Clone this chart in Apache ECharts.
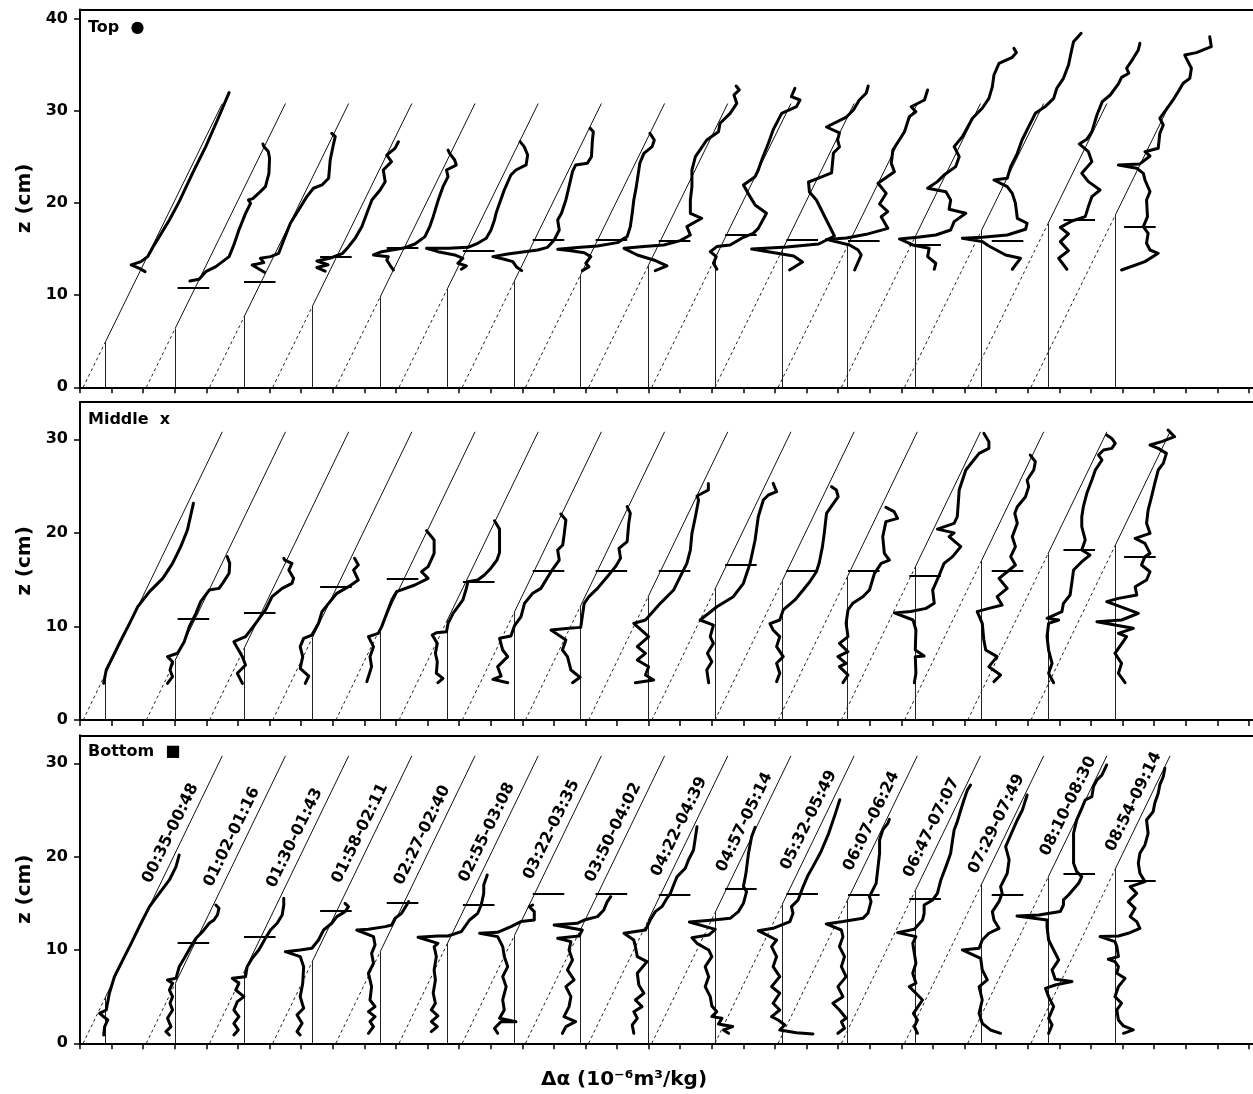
<!DOCTYPE html>
<html><head><meta charset="utf-8">
<script src="https://cdn.jsdelivr.net/npm/echarts/dist/echarts.min.js"></script>
<style>html,body{margin:0;padding:0;background:#fff}#c{width:1253px;height:1094px}</style>
</head><body><div id="c"></div><script>
// ---- data (Δα in arbitrary tick units, z in cm) ----
const SLOPE = 0.143;          // reference-line slope, Δα units per cm
const DIAG_TOP = 30.8;        // reference lines end at this height (cm)
const MARKER_W = 1.0;         // width of the interface markers (Δα units)
const X_MAX = 37.13;          // visible Δα range of the axis
const baseOffsets = [0.1,2.1,4.1,6.1,8.1,10.1,12.1,14.1,16.1,18.1,20.1,22.1,24.1,26.1,28.1,30.1];
const verticalPos = [0.81,3.01,5.21,7.36,9.50,11.63,13.75,15.85,17.98,20.11,22.23,24.29,26.44,28.54,30.64,32.78];
const markerZ = [null,10.8,11.45,14.2,15.1,14.8,16.0,16.0,15.9,16.6,16.0,15.9,15.45,15.9,18.15,17.4];
const markerStart = [null,3.09,5.19,7.6,9.71,12.12,14.33,16.32,18.32,20.42,22.36,24.31,26.25,28.86,31.13,33.05];
const timeLabels = ['00:35-00:48','01:02-01:16','01:30-01:43','01:58-02:11','02:27-02:40','02:55-03:08','03:22-03:35','03:50-04:02','04:22-04:39','04:57-05:14','05:32-05:49','06:07-06:24','06:47-07:07','07:29-07:49','08:10-08:30','08:54-09:14'];
const labelZ = [22.5,22.1,22.0,22.5,22.3,22.6,22.9,22.6,23.2,23.7,23.9,23.8,23.1,23.5,25.4,25.9];
const yMajorTop = [0,10,20,30,40];
const yMajorLow = [0,10,20,30];
const yMinorTop = [2,4,6,8,12,14,16,18,22,24,26,28,32,34,36,38];
const yMinorLow = [2,4,6,8,12,14,16,18,22,24,26,28,32];
const xTicks = Array.from({length: 38}, (_, i) => i);

const topProfiles = [
[[2.06,12.55],[1.88,12.91],[1.62,13.28],[1.93,13.64],[2.14,14.18],[2.32,15.27],[2.51,16.35],[2.83,18.16],[3.14,20.15],[3.56,23.22],[3.98,26.12],[4.35,29.01],[4.72,31.98]],
[[3.48,11.54],[3.77,11.72],[3.98,12.55],[4.30,13.10],[4.72,14.18],[4.87,15.45],[5.03,17.07],[5.24,18.88],[5.40,19.97],[5.33,20.33],[5.47,20.47],[5.71,21.23],[5.87,21.78],[5.98,23.22],[6.00,24.85],[5.96,25.58],[5.82,26.12],[5.79,26.41]],
[[5.84,12.48],[5.45,13.28],[5.82,13.53],[5.71,14.0],[6.03,14.18],[6.29,14.54],[6.45,15.99],[6.66,17.8],[6.92,19.24],[7.18,20.69],[7.39,21.6],[7.66,21.96],[7.87,22.68],[7.92,24.67],[8.03,26.48],[8.08,27.2],[7.97,27.56]],
[[7.76,12.6],[7.5,13.0],[7.85,13.3],[7.5,13.7],[7.9,14.0],[8.1,14.25],[8.3,14.5],[8.5,15.26],[8.71,16.17],[8.92,17.43],[9.08,18.88],[9.24,20.33],[9.5,21.41],[9.66,22.31],[9.6,23.58],[9.86,24.49],[9.71,25.2],[9.97,25.93],[10.08,26.65]],
[[9.92,12.73],[9.81,13.27],[9.71,13.81],[9.76,14.18],[9.29,14.36],[9.55,14.72],[10.29,15.15],[10.6,15.55],[10.92,16.35],[11.07,17.43],[11.18,18.52],[11.34,20.33],[11.49,21.77],[11.65,22.86],[11.6,23.58],[11.91,24.12],[11.86,24.67],[11.7,25.39],[11.65,25.75]],
[[12.07,12.81],[12.23,13.17],[11.96,13.46],[12.12,14.0],[11.86,14.36],[11.33,14.72],[10.97,15.08],[11.65,15.08],[12.28,15.19],[12.59,15.63],[12.86,16.17],[13.01,17.07],[13.12,18.16],[13.17,18.88],[13.28,19.97],[13.43,21.41],[13.64,23.04],[13.8,23.58],[14.12,24.13],[14.17,25.21],[14.06,26.12],[13.93,26.66]],
[[13.98,12.66],[13.81,13.09],[13.7,13.64],[13.43,13.89],[13.07,14.18],[13.54,14.47],[14.07,14.72],[14.49,14.9],[14.8,15.19],[15.01,15.99],[15.17,17.07],[15.12,18.16],[15.24,18.88],[15.38,20.33],[15.48,21.78],[15.59,23.4],[15.69,24.13],[16.06,24.31],[16.19,25.03],[16.22,26.84],[16.25,27.74],[16.15,28.1]],
[[15.9,12.66],[16.11,13.09],[16.01,13.46],[16.17,14.18],[15.96,14.61],[15.54,14.83],[15.12,14.98],[15.75,15.16],[16.38,15.34],[17.01,15.7],[17.32,16.35],[17.42,17.44],[17.48,18.88],[17.53,20.33],[17.61,21.78],[17.72,24.31],[17.85,25.39],[18.11,26.12],[18.18,26.84],[18.04,27.56]],
[[18.21,12.66],[18.58,13.17],[18.16,13.82],[17.64,14.36],[17.22,15.08],[17.85,15.27],[18.48,15.45],[19.0,15.92],[19.32,16.53],[19.21,17.44],[19.68,18.34],[19.32,18.88],[19.32,20.33],[19.37,21.78],[19.37,23.58],[19.48,25.03],[19.84,26.84],[20.21,27.74],[20.26,28.65],[20.58,29.73],[20.79,30.82],[20.7,31.72],[20.87,32.27],[20.77,32.7]],
[[20.16,12.81],[20.05,13.46],[20.14,14.18],[19.95,14.72],[20.16,15.27],[20.58,15.45],[21.0,16.28],[21.31,16.71],[21.47,17.25],[21.73,18.88],[21.37,19.79],[21.21,20.69],[21.0,21.96],[21.37,22.86],[21.47,23.58],[21.58,24.67],[21.79,26.48],[21.94,27.93],[22.21,29.73],[22.68,30.46],[22.79,31.18],[22.52,31.54],[22.63,32.45]],
[[22.46,12.73],[22.87,13.6],[22.59,14.25],[21.26,15.01],[22.37,15.23],[23.38,15.55],[23.88,16.42],[23.69,17.72],[23.5,19.02],[23.31,20.33],[23.09,21.19],[23.06,22.28],[23.38,22.71],[23.79,23.26],[23.85,25.43],[24.04,26.08],[23.98,26.84],[24.04,27.6],[23.63,28.25],[24.26,29.33],[24.48,30.09],[24.67,31.18],[24.89,31.94],[24.95,32.7]],
[[24.52,12.73],[24.73,14.36],[24.63,14.9],[24.36,15.45],[23.63,16.05],[24.26,16.2],[24.89,16.6],[25.57,17.25],[25.36,18.51],[25.57,19.06],[25.31,19.89],[25.52,21.05],[25.26,22.14],[25.78,23.4],[25.68,24.31],[25.73,25.75],[26.1,27.74],[26.25,29.37],[26.46,29.91],[26.31,30.45],[26.73,31.18],[26.83,32.26]],
[[27.04,12.81],[27.09,13.46],[26.83,14.18],[26.88,15.08],[26.36,15.45],[25.94,16.1],[26.51,16.28],[27.09,16.53],[27.56,17.07],[27.67,17.98],[28.04,18.88],[27.51,19.32],[27.56,20.33],[27.41,21.23],[26.83,21.6],[27.14,22.32],[27.35,23.04],[27.72,23.95],[27.83,25.03],[27.67,26.12],[27.93,27.2],[28.25,29.19],[28.56,30.28],[28.77,31.36],[28.88,32.63],[28.93,33.89],[29.09,35.16],[29.51,35.81],[29.64,36.32],[29.56,36.79]],
[[29.51,12.81],[29.77,14.0],[29.3,14.36],[28.77,15.34],[28.56,15.81],[27.93,16.17],[28.56,16.28],[29.35,16.53],[29.93,17.15],[29.98,17.8],[29.67,18.34],[29.61,19.97],[29.51,21.05],[29.35,21.78],[28.93,22.5],[29.35,22.68],[29.46,23.95],[29.67,25.39],[29.82,26.84],[30.03,28.29],[30.24,29.73],[30.55,30.46],[30.82,31.36],[30.92,32.45],[31.13,33.53],[31.29,34.98],[31.39,36.61],[31.45,37.51],[31.69,38.42]],
[[31.24,12.81],[30.98,14.0],[31.29,14.83],[31.03,15.81],[31.29,16.64],[31.03,17.36],[31.4,18.05],[31.82,18.52],[31.92,19.61],[32.03,20.69],[32.29,21.41],[31.92,22.32],[31.71,23.22],[32.03,24.49],[31.92,25.57],[31.63,26.41],[31.87,26.91],[32.03,27.74],[32.19,29.55],[32.36,31.0],[32.61,31.72],[32.87,32.92],[32.97,33.64],[33.2,34.08],[33.13,34.62],[33.34,35.7],[33.5,36.61],[33.55,37.33]],
[[32.97,12.73],[33.71,13.64],[34.13,14.54],[33.87,14.9],[33.76,15.63],[33.81,16.71],[33.66,17.44],[33.79,18.52],[33.76,20.33],[33.87,21.23],[33.71,22.5],[33.66,23.22],[33.45,23.77],[32.87,24.13],[33.55,24.24],[33.87,25.1],[33.71,25.57],[34.13,25.94],[34.18,27.56],[34.29,28.47],[34.18,29.19],[34.45,30.46],[34.6,31.18],[34.78,32.19],[34.92,32.99],[35.13,33.53],[35.18,34.62],[35.02,35.7],[34.97,36.06],[35.34,36.32],[35.81,36.97],[35.76,38.05]]
];

const middleProfiles = [
[[0.75,3.92],[0.83,5.34],[1.04,6.77],[1.30,8.55],[1.57,10.33],[1.83,12.11],[2.20,13.72],[2.62,15.14],[2.93,16.74],[3.19,18.53],[3.40,20.31],[3.59,23.16]],
[[2.77,3.92],[2.93,4.63],[2.85,5.34],[2.93,6.23],[2.77,6.77],[3.09,7.13],[3.30,8.37],[3.46,9.98],[3.67,11.4],[3.82,12.65],[4.09,13.89],[4.40,14.07],[4.53,14.68],[4.72,15.68],[4.74,16.74],[4.66,17.46]],
[[5.14,3.92],[4.98,4.99],[5.24,5.88],[5.14,6.77],[4.87,8.37],[5.24,8.91],[5.56,10.33],[5.87,11.76],[6.08,13.18],[6.40,14.07],[6.71,14.61],[6.76,15.14],[6.61,16.03],[6.71,16.74],[6.48,17.1],[6.45,17.28]],
[[7.13,3.92],[7.24,4.70],[6.97,5.52],[7.05,6.77],[6.97,7.84],[7.08,8.73],[7.34,9.08],[7.55,10.33],[7.66,11.58],[7.87,12.47],[8.13,13.54],[8.50,14.25],[8.81,14.96],[8.66,16.03],[8.81,16.57],[8.69,17.28]],
[[9.08,4.1],[9.23,5.7],[9.18,6.77],[9.29,7.84],[9.13,8.91],[9.44,9.26],[9.55,9.98],[9.71,11.4],[9.87,12.83],[10.02,13.72],[10.6,14.43],[11.02,15.14],[10.81,15.85],[11.02,16.39],[11.21,17.81],[11.21,19.24],[10.97,20.24]],
[[11.33,3.99],[11.49,4.45],[11.28,4.99],[11.31,6.23],[11.25,7.13],[11.31,8.19],[11.15,9.08],[11.28,9.33],[11.6,9.44],[11.65,10.33],[11.81,11.4],[12.12,12.83],[12.23,14.07],[12.28,14.78],[12.59,14.96],[12.8,15.5],[13.0,16.2],[13.2,17.1],[13.28,17.9],[13.28,19.3],[13.28,20.4],[13.12,21.3]],
[[13.54,3.99],[13.07,4.35],[13.33,4.70],[13.22,5.7],[13.54,6.77],[13.38,7.48],[13.28,8.73],[13.64,8.98],[13.75,10.05],[13.96,11.04],[14.07,12.47],[14.33,13.54],[14.59,14.07],[14.91,15.85],[15.17,17.1],[15.12,18.17],[15.28,18.7],[15.33,19.95],[15.38,21.38],[15.22,22.02]],
[[15.59,3.99],[15.83,4.56],[15.54,5.34],[15.43,6.77],[15.27,7.48],[15.38,8.55],[14.91,9.62],[15.48,9.8],[15.85,9.9],[15.96,12.47],[16.11,13.18],[16.38,14.07],[16.69,15.32],[16.95,16.39],[17.11,17.28],[17.06,18.35],[17.32,19.06],[17.37,21.02],[17.42,22.09],[17.32,22.8]],
[[17.58,3.99],[18.16,4.28],[17.9,4.81],[18.0,5.7],[17.64,6.41],[17.9,7.13],[17.64,7.84],[18.0,8.91],[17.53,10.33],[17.9,10.69],[18.37,12.47],[18.79,13.89],[19.0,15.32],[19.21,16.74],[19.32,18.17],[19.37,19.95],[19.48,21.73],[19.58,23.51],[19.53,23.94],[19.89,24.58],[19.89,25.29]],
[[19.9,3.99],[19.84,5.34],[20.0,6.23],[19.86,7.13],[20.05,8.19],[19.95,8.91],[20.05,10.15],[19.63,10.69],[20.16,12.11],[20.68,13.18],[21.0,14.61],[21.21,16.74],[21.37,19.24],[21.47,21.73],[21.63,23.51],[21.79,24.05],[22.05,24.4],[21.94,25.29]],
[[22.05,4.1],[22.15,4.99],[22.05,6.06],[22.26,6.77],[22.05,7.84],[22.15,8.91],[21.94,9.62],[21.84,10.3],[22.15,10.69],[22.26,11.76],[22.63,12.83],[22.89,13.89],[23.1,14.78],[23.31,15.85],[23.4,16.8],[23.5,18.5],[23.56,20.0],[23.63,22.09],[24.0,23.87],[23.94,24.58],[23.79,24.94]],
[[24.15,3.99],[24.31,4.81],[24.04,5.7],[24.25,6.06],[23.99,6.77],[24.31,7.3],[24.04,8.19],[24.31,8.91],[24.25,10.33],[24.31,11.76],[24.46,12.47],[24.78,13.18],[24.99,13.89],[25.15,15.68],[25.36,16.74],[25.62,17.1],[25.46,17.81],[25.41,19.59],[25.51,21.2],[25.88,21.55],[25.77,22.27],[25.51,22.73]],
[[26.41,3.99],[26.46,4.99],[26.44,6.77],[26.72,6.84],[26.44,7.48],[26.46,9.62],[26.37,10.69],[25.78,11.45],[26.3,11.6],[26.78,11.93],[27.04,12.47],[26.99,13.89],[27.2,15.5],[27.35,16.74],[27.62,17.46],[27.88,18.53],[27.51,19.59],[27.67,20.0],[27.14,20.4],[27.67,21.02],[27.77,21.73],[27.83,24.58],[28.04,26.72],[28.46,28.5],[28.77,29.03],[28.77,29.75],[28.61,30.64]],
[[28.93,4.1],[29.14,4.81],[28.77,5.7],[29.03,6.77],[28.67,7.48],[28.61,8.55],[28.56,10.33],[28.4,11.58],[28.77,11.93],[29.19,12.29],[29.03,13.18],[29.35,14.07],[29.09,15.14],[29.35,15.85],[29.61,16.57],[29.46,17.46],[29.61,18.53],[29.51,19.59],[29.67,21.02],[29.59,22.09],[29.67,22.8],[29.93,23.87],[30.03,24.94],[29.98,25.65],[30.19,26.72],[30.24,27.61],[30.08,28.32]],
[[30.82,3.99],[30.66,4.99],[30.77,6.06],[30.66,7.48],[30.61,8.91],[30.66,10.33],[30.98,10.69],[30.61,10.87],[31.08,11.58],[31.13,12.47],[31.34,13.36],[31.4,14.78],[31.45,16.03],[31.71,16.92],[31.97,17.63],[31.71,18.17],[31.82,19.24],[31.71,20.66],[31.71,21.73],[31.76,22.8],[31.87,24.23],[32.03,25.65],[32.14,26.72],[32.35,27.79],[32.24,28.32],[32.4,28.86],[32.66,29.03],[32.77,29.57],[32.66,30.1],[32.5,30.46]],
[[33.08,3.99],[32.87,4.99],[32.97,6.06],[32.76,7.13],[33.13,8.91],[32.87,9.26],[33.34,9.8],[32.76,10.15],[32.19,10.51],[32.97,10.69],[33.5,11.4],[33.08,11.93],[32.5,12.65],[32.87,13.0],[33.45,13.36],[33.4,14.25],[33.76,14.96],[33.87,15.85],[33.6,16.57],[33.71,17.46],[33.87,17.81],[33.71,18.88],[33.4,19.42],[33.87,19.95],[33.76,21.02],[33.81,22.44],[33.92,23.87],[34.02,25.29],[34.13,26.72],[34.29,27.43],[34.39,28.5],[34.13,29.03],[33.87,29.39],[34.24,29.75],[34.65,30.28],[34.44,30.99]]
];

const bottomProfiles = [
[[0.75,0.89],[0.78,1.79],[0.88,2.5],[0.62,3.21],[0.83,3.57],[0.93,5.36],[1.09,7.14],[1.30,8.57],[1.62,10.71],[1.93,12.86],[2.20,14.64],[2.51,16.07],[2.83,17.5],[3.04,18.93],[3.14,20.18]],
[[2.83,0.89],[2.72,1.25],[2.88,1.79],[2.77,2.68],[2.93,3.57],[2.85,4.29],[2.93,5.0],[2.83,5.71],[2.93,6.43],[2.77,6.79],[3.04,6.96],[3.14,8.21],[3.30,9.11],[3.51,10.36],[3.67,11.25],[3.88,11.96],[4.09,12.86],[4.24,13.21],[4.35,13.75],[4.40,14.46],[4.30,14.82]],
[[4.87,0.89],[5.01,1.43],[4.87,2.14],[5.03,2.86],[4.87,3.57],[4.98,4.46],[5.19,5.0],[4.93,5.71],[5.03,6.43],[4.82,6.96],[5.24,7.14],[5.29,8.21],[5.45,9.11],[5.66,10.0],[5.87,11.25],[6.03,12.14],[6.24,12.86],[6.4,13.75],[6.45,14.82],[6.45,15.54]],
[[6.97,0.89],[6.87,1.25],[7.03,2.14],[6.87,3.04],[7.08,3.75],[6.97,5.0],[7.05,6.43],[7.08,8.21],[6.97,9.29],[6.5,9.82],[6.97,10.0],[7.34,10.18],[7.55,11.07],[7.71,12.14],[7.97,12.86],[8.13,13.57],[8.39,14.11],[8.5,14.64],[8.39,15.0]],
[[9.13,1.07],[9.29,1.79],[9.18,2.32],[9.34,2.86],[9.13,3.39],[9.34,3.93],[9.18,4.64],[9.23,6.07],[9.13,7.5],[9.29,8.57],[9.23,9.64],[9.34,10.54],[9.29,11.43],[8.76,12.14],[9.13,12.21],[9.66,12.5],[9.87,12.68],[9.97,13.39],[10.18,13.93],[10.34,14.82],[10.4,15.18]],
[[11.12,1.25],[11.31,1.79],[11.12,2.32],[11.33,2.93],[11.12,3.57],[11.25,4.29],[11.18,5.36],[11.25,6.79],[11.21,7.86],[11.28,9.29],[11.21,10.36],[11.33,10.71],[10.7,11.36],[11.33,11.5],[11.65,11.5],[12.07,11.96],[12.33,13.21],[12.59,13.93],[12.7,14.82],[12.78,16.07],[12.78,16.96],[12.89,18.04]],
[[13.22,1.07],[13.12,1.61],[13.33,2.32],[13.8,2.32],[13.28,2.68],[13.43,3.57],[13.38,4.64],[13.49,6.07],[13.38,7.14],[13.54,8.21],[13.43,9.29],[13.38,10.36],[13.22,11.43],[12.65,11.79],[13.22,11.89],[13.64,12.5],[13.96,13.04],[14.38,13.21],[14.38,14.11],[14.22,14.64],[14.33,14.82]],
[[15.27,1.07],[15.38,1.79],[15.69,2.32],[15.32,2.86],[15.48,3.93],[15.54,5.0],[15.38,6.07],[15.64,6.79],[15.43,7.86],[15.59,8.93],[15.48,10.0],[15.54,10.89],[15.12,11.25],[15.8,11.5],[15.9,12.14],[15.01,12.68],[15.74,12.86],[15.96,13.21],[16.38,13.57],[16.58,14.29],[16.69,15.18],[16.8,15.71]],
[[17.53,1.07],[17.48,1.96],[17.64,2.68],[17.53,3.39],[17.79,3.93],[17.58,4.64],[17.85,5.36],[17.69,6.25],[17.64,7.5],[17.95,8.75],[17.64,9.29],[17.58,10.36],[17.53,11.07],[17.22,11.79],[17.9,12.14],[18.05,13.21],[18.21,14.11],[18.42,14.64],[18.58,15.54],[18.69,16.07],[18.79,16.96],[18.9,17.86],[19.16,18.75],[19.26,19.64],[19.42,20.71],[19.53,23.21]],
[[20.53,1.07],[20.37,1.43],[20.66,1.79],[20.21,2.07],[20.32,2.68],[20.0,2.86],[20.16,3.39],[20.0,4.0],[19.95,5.0],[19.79,6.07],[19.9,7.14],[19.79,8.21],[20.0,9.29],[19.9,10.0],[19.53,10.71],[19.37,11.3],[19.9,11.6],[20.11,12.21],[19.29,13.0],[20.05,13.21],[20.58,13.39],[20.84,14.11],[21.0,15.0],[21.1,16.25],[21.0,16.79],[21.08,18.21],[21.16,20.36],[21.26,22.14],[21.37,23.14]],
[[23.2,1.0],[22.68,1.14],[22.15,1.43],[22.31,1.96],[22.1,2.5],[21.89,2.86],[22.15,3.57],[21.94,4.29],[22.15,5.36],[21.89,6.07],[22.15,7.14],[21.94,8.21],[22.05,9.29],[21.89,10.36],[22.05,11.07],[21.47,12.07],[21.94,12.32],[22.47,13.04],[22.57,13.93],[22.52,14.64],[22.73,15.36],[22.89,16.79],[23.05,18.04],[23.2,18.93],[23.45,20.5],[23.7,22.5],[23.9,24.5],[24.05,26.1]],
[[23.99,1.07],[24.2,1.61],[24.1,2.32],[24.25,2.68],[24.04,3.57],[23.83,4.29],[24.15,5.0],[23.99,6.07],[24.25,7.14],[24.1,8.21],[24.2,9.29],[24.04,10.36],[24.15,11.43],[24.1,12.14],[23.62,12.79],[24.15,13.04],[24.78,13.39],[24.94,13.93],[25.04,15.18],[24.99,15.71],[25.2,17.14],[25.25,18.57],[25.31,20.36],[25.31,21.79],[25.41,22.86],[25.57,23.57],[25.62,24.0]],
[[26.51,1.07],[26.41,1.79],[26.51,2.5],[26.38,3.21],[26.67,4.64],[26.46,5.36],[26.25,6.07],[26.46,6.43],[26.36,7.5],[26.46,8.57],[26.41,9.64],[26.36,10.71],[26.46,11.43],[25.88,11.86],[26.41,12.21],[26.67,13.21],[26.72,13.93],[26.72,14.82],[26.99,15.36],[27.14,16.07],[27.25,17.5],[27.41,18.93],[27.56,20.36],[27.62,21.79],[27.67,22.86],[27.77,23.75],[27.88,25.0],[27.98,26.07],[28.09,27.14],[28.19,27.68]],
[[29.14,1.07],[28.82,1.43],[28.56,2.14],[28.46,3.21],[28.56,4.64],[28.46,6.07],[28.72,6.79],[28.56,7.86],[28.51,9.11],[27.93,10.0],[28.46,10.18],[28.56,11.07],[28.77,11.79],[29.09,12.32],[28.93,13.21],[28.88,14.11],[29.09,15.18],[29.19,16.07],[29.14,16.79],[29.35,18.21],[29.41,19.64],[29.3,21.07],[29.46,22.32],[29.67,23.93],[29.83,25.0],[29.93,26.07],[29.98,26.61]],
[[30.66,1.07],[30.77,1.96],[30.66,2.68],[30.82,3.93],[30.66,5.0],[30.56,5.89],[30.87,6.25],[31.4,6.61],[30.87,6.86],[30.77,7.86],[30.98,8.93],[30.82,10.0],[30.66,11.07],[30.61,12.5],[30.61,13.21],[29.66,13.64],[30.35,13.75],[31.03,14.11],[31.13,14.82],[31.13,15.36],[31.29,15.89],[31.61,17.14],[31.71,17.86],[31.55,18.39],[31.45,19.29],[31.45,21.07],[31.45,22.5],[31.55,23.93],[31.71,25.18],[31.82,26.07],[32.03,26.43],[32.08,27.5],[32.19,28.21],[32.35,28.75],[32.5,29.82]],
[[33.03,1.07],[33.34,1.43],[33.03,1.86],[32.87,2.5],[32.82,3.57],[32.97,4.29],[32.76,5.0],[32.87,6.07],[33.08,6.96],[32.82,7.5],[32.87,8.21],[32.76,8.75],[32.55,9.0],[32.87,9.29],[32.82,10.36],[32.76,10.89],[32.29,11.43],[32.87,11.5],[33.18,11.79],[33.55,12.32],[33.45,13.04],[33.24,13.57],[33.4,14.46],[33.18,15.18],[33.45,16.07],[33.24,16.79],[33.55,17.14],[33.71,17.32],[33.55,18.21],[33.5,19.29],[33.55,20.36],[33.71,21.25],[33.81,22.5],[33.76,23.93],[33.97,24.82],[34.02,25.71],[34.13,26.79],[34.18,27.68],[34.29,28.57],[34.34,29.46]]
];

// ---- layout ----
const FONT = 'DejaVu Sans';
const panels = [
  {top: 9.5,   height: 377.8, max: 41, majors: yMajorTop, minors: yMinorTop, profiles: topProfiles,    title: 'Top  ●',    titleY: 27.5, labels: false},
  {top: 401.9, height: 318.1, max: 34, majors: yMajorLow, minors: yMinorLow, profiles: middleProfiles, title: 'Middle  x', titleY: 420,  labels: false},
  {top: 735.3, height: 308,   max: 33, majors: yMajorLow, minors: yMinorLow, profiles: bottomProfiles, title: 'Bottom  ■', titleY: 752,  labels: true}
];

const grid = [], xAxis = [], yAxis = [], series = [], graphic = [];
panels.forEach((p, k) => {
  grid.push({left: 80, top: p.top, width: 1178, height: p.height, show: false});
  // bottom axis with ticks
  xAxis.push({type: 'value', gridIndex: k, position: 'bottom', min: 0, max: X_MAX,
    axisLine: {show: true, onZero: false, lineStyle: {color: '#000', width: 2}},
    axisTick: {show: true, length: 6, customValues: xTicks, lineStyle: {color: '#000', width: 1.5}},
    axisLabel: {show: false}, splitLine: {show: false}});
  // top frame line
  xAxis.push({type: 'value', gridIndex: k, position: 'top', min: 0, max: X_MAX,
    axisLine: {show: true, onZero: false, lineStyle: {color: '#000', width: 2}},
    axisTick: {show: false}, axisLabel: {show: false}, splitLine: {show: false}});
  yAxis.push({type: 'value', gridIndex: k, min: 0, max: p.max,
    axisLine: {show: true, onZero: false, lineStyle: {color: '#000', width: 2}},
    axisTick: {show: true, length: 6, customValues: p.majors, lineStyle: {color: '#000', width: 1.5}},
    axisLabel: {show: true, customValues: p.majors, margin: 12, color: '#000', fontFamily: FONT, fontWeight: 'bold', fontSize: 16},
    splitLine: {show: false},
    name: 'z (cm)', nameLocation: 'middle', nameGap: 44,
    nameTextStyle: {color: '#000', fontFamily: FONT, fontWeight: 'bold', fontSize: 20}});
  yAxis.push({type: 'value', gridIndex: k, min: 0, max: p.max,
    axisLine: {show: false, onZero: false},
    axisTick: {show: true, length: 3, customValues: p.minors, lineStyle: {color: '#000', width: 1.5}},
    axisLabel: {show: false}, splitLine: {show: false}});

  const dotted = [], solid = [], verts = [], marks = [];
  baseOffsets.forEach((x0, i) => {
    const xv = verticalPos[i];
    const zv = (xv - x0) / SLOPE;
    dotted.push({coords: [[x0, 0], [xv, zv]]});
    solid.push({coords: [[xv, zv], [x0 + SLOPE * DIAG_TOP, DIAG_TOP]]});
    verts.push({coords: [[xv, 0], [xv, zv]]});
    if (markerZ[i] !== null) marks.push({coords: [[markerStart[i], markerZ[i]], [markerStart[i] + MARKER_W, markerZ[i]]]});
  });
  const base = {type: 'lines', coordinateSystem: 'cartesian2d', xAxisIndex: 2 * k, yAxisIndex: 2 * k, silent: true, animation: false};
  series.push(Object.assign({}, base, {data: dotted, z: 2, lineStyle: {color: '#222', width: 1, type: [3, 3], opacity: 1}}));
  series.push(Object.assign({}, base, {data: solid,  z: 2, lineStyle: {color: '#111', width: 1, opacity: 1}}));
  series.push(Object.assign({}, base, {data: verts,  z: 2, lineStyle: {color: '#222', width: 1, opacity: 1}}));
  series.push(Object.assign({}, base, {data: marks,  z: 3, lineStyle: {color: '#000', width: 2, opacity: 1}}));
  series.push(Object.assign({}, base, {polyline: true, z: 4,
    data: p.profiles.map(c => ({coords: c})),
    lineStyle: {color: '#000', width: 3, opacity: 1, join: 'round', cap: 'round'}}));

  if (p.labels) {
    series.push({type: 'scatter', xAxisIndex: 2 * k, yAxisIndex: 2 * k, symbolSize: 0, silent: true, animation: false, z: 5,
      data: timeLabels.map((t, i) => ({name: t, value: [baseOffsets[i] + SLOPE * labelZ[i] - 0.45, labelZ[i]]})),
      label: {show: true, position: 'inside', rotate: 64, formatter: d => d.name, opacity: 1,
        color: '#000', fontFamily: FONT, fontWeight: 'bold', fontSize: 16}});
  }
  graphic.push({type: 'text', x: 88, y: p.titleY, silent: true,
    style: {text: p.title, fill: '#000', font: 'bold 16px "DejaVu Sans"', textVerticalAlign: 'middle', verticalAlign: 'middle'}});
});
graphic.push({type: 'text', x: 624, y: 1080, silent: true,
  style: {text: 'Δα (10⁻⁶m³/kg)', fill: '#000', font: 'bold 20px "DejaVu Sans"', textAlign: 'center', align: 'center', textVerticalAlign: 'middle', verticalAlign: 'middle'}});

const chart = echarts.init(document.getElementById('c'), null, {renderer: 'canvas'});
chart.setOption({backgroundColor: '#fff', animation: false, grid, xAxis, yAxis, series, graphic});
</script></body></html>
